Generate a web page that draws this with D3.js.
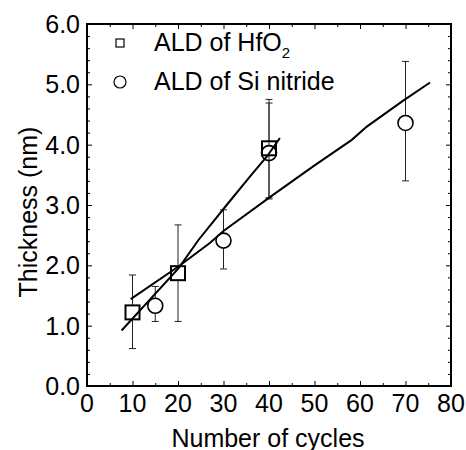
<!DOCTYPE html>
<html lang="en">
<head>
  <meta charset="UTF-8">
  <title>ALD thickness vs cycles</title>
  <script src="https://d3js.org/d3.v7.min.js"></script>
  <style>
    body { margin: 0; background: #fff; }
    text { font-family: "Liberation Sans", Arial, sans-serif; fill: #000; }
  </style>
</head>
<body>
<div class="main"></div>
<script>
  // HfO2 series (squares)
  const hfCycles = [10, 20, 40];
  const hfThick = [1.22, 1.87, 3.94];
  const hfErrLow = [0.62, 1.07, 3.12];
  const hfErrHigh = [1.84, 2.67, 4.75];

  // Si nitride series (circles)
  const siCycles = [15, 30, 40, 70];
  const siThick = [1.33, 2.41, 3.86, 4.36];
  const siErrLow = [1.07, 1.94, 3.10, 3.40];
  const siErrHigh = [1.65, 2.92, 4.69, 5.38];

  // fitted lines
  const hfFitX = [7.6, 20.1, 24.5, 30.7, 35.8, 39.5, 42.4];
  const hfFitY = [0.92, 1.95, 2.42, 3.0, 3.47, 3.80, 4.11];
  const siFitX = [9.6, 20.1, 27.0, 30.0, 40.2, 49.7, 58.2, 61.5, 69.5, 75.4];
  const siFitY = [1.44, 1.98, 2.37, 2.57, 3.13, 3.64, 4.08, 4.30, 4.73, 5.03];

  const xTicks = [0, 10, 20, 30, 40, 50, 60, 70, 80];
  const yTicks = [0, 1, 2, 3, 4, 5, 6];
  const legendNames = ["ALD of HfO", "ALD of Si nitride"];

  var width = 466, height = 450;
  var mLeft = 87, mRight = 451, mTop = 24, mBottom = 386;

  var svg = d3.select(".main")
          .append("svg")
          .attr("width", width)
          .attr("height", height);

  var xScale = d3.scaleLinear().domain([0, 80]).range([mLeft, mRight]);
  var yScale = d3.scaleLinear().domain([0, 6]).range([mBottom, mTop]);

  var xMinor = d3.range(0, 80.1, 5).filter(v => v % 10 != 0);
  var yMinor = d3.range(0, 6.01, 0.2).map(v => +v.toFixed(1)).filter(v => Math.abs(v - Math.round(v)) > 0.01);

  function drawAxis(axis, translate) {
    var g = svg.append("g").attr("transform", translate).call(axis);
    g.select(".domain").remove();
    g.selectAll("line").attr("stroke", "#000").attr("stroke-width", 1);
    g.selectAll("text").remove();
  }

  // inward ticks on all four sides
  drawAxis(d3.axisBottom(xScale).tickValues(xTicks).tickSize(-5), `translate(0,${mBottom})`);
  drawAxis(d3.axisBottom(xScale).tickValues(xMinor).tickSize(-3), `translate(0,${mBottom})`);
  drawAxis(d3.axisTop(xScale).tickValues(xTicks).tickSize(-5), `translate(0,${mTop})`);
  drawAxis(d3.axisTop(xScale).tickValues(xMinor).tickSize(-3), `translate(0,${mTop})`);
  drawAxis(d3.axisLeft(yScale).tickValues(yTicks).tickSize(-5), `translate(${mLeft},0)`);
  drawAxis(d3.axisLeft(yScale).tickValues(yMinor).tickSize(-3), `translate(${mLeft},0)`);
  drawAxis(d3.axisRight(yScale).tickValues(yTicks).tickSize(-5), `translate(${mRight},0)`);
  drawAxis(d3.axisRight(yScale).tickValues(yMinor).tickSize(-3), `translate(${mRight},0)`);

  svg.append("rect")
          .attr("x", mLeft).attr("y", mTop)
          .attr("width", mRight - mLeft).attr("height", mBottom - mTop)
          .attr("fill", "none").attr("stroke", "#000").attr("stroke-width", 2);

  // tick labels
  svg.selectAll(".xlab").data(xTicks).join("text")
          .attr("class", "xlab")
          .attr("x", d => xScale(d))
          .attr("y", 412)
          .attr("text-anchor", "middle")
          .style("font-size", "25px")
          .text(d => d);

  svg.selectAll(".ylab").data(yTicks).join("text")
          .attr("class", "ylab")
          .attr("x", 80)
          .attr("y", d => yScale(d))
          .attr("dy", "0.36em")
          .attr("text-anchor", "end")
          .style("font-size", "25px")
          .text(d => d.toFixed(1));

  svg.append("text")
          .attr("x", 268).attr("y", 447)
          .attr("text-anchor", "middle")
          .style("font-size", "25px")
          .text("Number of cycles");

  svg.append("text")
          .attr("transform", "translate(37,212) rotate(-90)")
          .attr("text-anchor", "middle")
          .style("font-size", "25px")
          .text("Thickness (nm)");

  // error bars, split around the marker
  function errorBars(xs, ys, lo, hi, gap) {
    var g = svg.append("g").attr("stroke", "#222").attr("stroke-width", 1);
    xs.forEach(function (c, i) {
      var px = xScale(c), py = yScale(ys[i]);
      g.append("line").attr("x1", px).attr("x2", px).attr("y1", yScale(hi[i])).attr("y2", Math.max(yScale(hi[i]), py - gap));
      g.append("line").attr("x1", px).attr("x2", px).attr("y1", Math.min(yScale(lo[i]), py + gap)).attr("y2", yScale(lo[i]));
      [hi[i], lo[i]].forEach(function (v) {
        g.append("line").attr("x1", px - 3.5).attr("x2", px + 3.5).attr("y1", yScale(v)).attr("y2", yScale(v));
      });
    });
  }
  errorBars(hfCycles, hfThick, hfErrLow, hfErrHigh, 7);
  errorBars(siCycles, siThick, siErrLow, siErrHigh, 7.5);

  // markers
  svg.selectAll(".sq").data(hfCycles).join("rect")
          .attr("class", "sq")
          .attr("x", (d, i) => xScale(d) - 7)
          .attr("y", (d, i) => yScale(hfThick[i]) - 7)
          .attr("width", 14).attr("height", 14)
          .attr("fill", "none").attr("stroke", "#000").attr("stroke-width", 2);

  svg.selectAll(".ci").data(siCycles).join("circle")
          .attr("class", "ci")
          .attr("cx", d => xScale(d))
          .attr("cy", (d, i) => yScale(siThick[i]))
          .attr("r", 7.5)
          .attr("fill", "none").attr("stroke", "#000").attr("stroke-width", 1.6);

  // fitted lines
  var line = d3.line().x(d => xScale(d[0])).y(d => yScale(d[1]));
  svg.append("path")
          .attr("d", line(d3.zip(hfFitX, hfFitY)))
          .attr("fill", "none").attr("stroke", "#000").attr("stroke-width", 2);
  svg.append("path")
          .attr("d", line(d3.zip(siFitX, siFitY)))
          .attr("fill", "none").attr("stroke", "#000").attr("stroke-width", 2);

  // legend
  svg.append("rect")
          .attr("x", 116).attr("y", 39).attr("width", 8).attr("height", 8)
          .attr("fill", "none").attr("stroke", "#000").attr("stroke-width", 1.2);
  svg.append("circle")
          .attr("cx", 120).attr("cy", 82).attr("r", 6)
          .attr("fill", "none").attr("stroke", "#000").attr("stroke-width", 1.2);

  var t1 = svg.append("text").attr("x", 154).attr("y", 51).style("font-size", "25px").text(legendNames[0]);
  t1.append("tspan").attr("dy", 7).style("font-size", "15px").text("2");
  svg.append("text").attr("x", 154).attr("y", 90).style("font-size", "25px").text(legendNames[1]);
</script>
</body>
</html>
